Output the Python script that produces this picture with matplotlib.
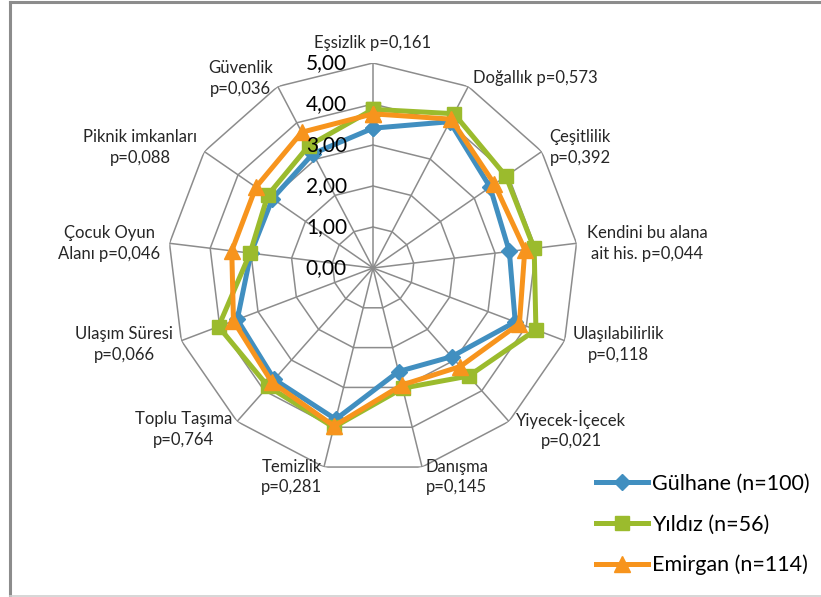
# encoding:utf-8
"""
Parklarin degerlendirme puanlari - radar grafik
"""
import numpy as np
import matplotlib
matplotlib.use('Agg')
import matplotlib.pyplot as plt
from matplotlib.lines import Line2D

plt.rcParams['font.family'] = ['Lato', 'DejaVu Sans']

# kategoriler (saat yonunde, tepeden baslayarak)
categories = ['Eşsizlik p=0,161', 'Doğallık p=0,573', 'Çeşitlilik\np=0,392',
              'Kendini bu alana\nait his. p=0,044', 'Ulaşılabilirlik\np=0,118',
              'Yiyecek-İçecek\np=0,021', 'Danışma\np=0,145', 'Temizlik\np=0,281',
              'Toplu Taşıma\np=0,764', 'Ulaşım Süresi\np=0,066',
              'Çocuk Oyun\nAlanı p=0,046', 'Piknik imkanları\np=0,088',
              'Güvenlik\np=0,036']

gulhane = [3.41, 4.03, 3.47, 3.35, 3.71, 2.89, 2.60, 3.80, 3.63, 3.54, 3.00, 2.98, 3.15]
yildiz = [3.87, 4.25, 3.94, 3.96, 4.25, 3.52, 3.02, 4.00, 3.86, 4.03, 3.02, 3.12, 3.37]
emirgan = [3.76, 4.10, 3.60, 3.73, 3.82, 3.21, 2.94, 3.97, 3.72, 3.64, 3.47, 3.47, 3.74]

series_names = ['Gülhane (n=100)', 'Yıldız (n=56)', 'Emirgan (n=114)']
ticks = [0, 1, 2, 3, 4, 5]
tick_labels = ['0,00', '1,00', '2,00', '3,00', '4,00', '5,00']

# etiket yerlesimi (kose noktasina gore piksel kaydirma, hizalama)
label_offsets = [(0, 12, 'center', 'bottom'), (5, 8, 'left', 'center'),
                 (8, 4, 'left', 'center'), (10, 0, 'left', 'center'),
                 (8, -4, 'left', 'center'), (7, -8, 'left', 'center'),
                 (3, -10, 'left', 'center'), (-2, -10, 'right', 'center'),
                 (-5, -8, 'right', 'center'), (-8, -4, 'right', 'center'),
                 (-9, 0, 'right', 'center'), (-7, 4, 'right', 'center'),
                 (-5, 8, 'right', 'center')]

colors = ['#418FC0', '#9BBB2D', '#F7941D']
markers = ['D', 's', '^']
msizes = [8, 10.5, 11]

W, H = 821, 597
fig = plt.figure(figsize=(W / 100, H / 100), dpi=100)

cx, cy, R = 373, 268, 205
ax = fig.add_axes([(cx - R) / W, (H - cy - R) / H, 2 * R / W, 2 * R / H],
                  projection='polar')
ax.set_theta_zero_location('N')
ax.set_theta_direction(-1)
ax.set_ylim(0, 5)
ax.grid(False)
ax.set_xticks([])
ax.set_yticks([])
ax.spines['polar'].set_visible(False)
ax.patch.set_alpha(0)

n = len(categories)
angles = np.arange(n) * 2 * np.pi / n
closed = np.append(angles, angles[0])

# izgara (cokgen halkalar + isinlar)
for t in ticks[1:]:
    ax.plot(closed, [t] * (n + 1), color='#8C8C8C', lw=1.1, zorder=1)
for a in angles:
    ax.plot([a, a], [0, ticks[-1]], color='#8C8C8C', lw=1.1, zorder=1)

for t, lab in zip(ticks, tick_labels):
    ax.annotate(lab, xy=(0, t), xytext=(-26, 0), textcoords='offset pixels',
                ha='right', va='center', fontsize=15, color='black', zorder=5)

for a, lab, (dx, dy, ha, va) in zip(angles, categories, label_offsets):
    ax.annotate(lab, xy=(a, ticks[-1]), xytext=(dx, dy), textcoords='offset pixels',
                ha=ha, va=va, multialignment='center', fontsize=12,
                color='#262626', linespacing=1.35)

for vals, col, mk, ms in zip([gulhane, yildiz, emirgan], colors, markers, msizes):
    ax.plot(closed, np.append(vals, vals[0]), color=col, lw=3.6, marker=mk,
            markersize=ms, markeredgecolor=col, zorder=3, clip_on=False)

handles = [Line2D([], [], color=c, lw=3.6, marker=m, markersize=s)
           for c, m, s in zip(colors, markers, msizes)]
fig.legend(handles, series_names, loc='upper left',
           bbox_to_anchor=(596 / W, 1 - 474 / H), frameon=False,
           fontsize=15.5, handlelength=2.4, handletextpad=0.2, labelspacing=0.95,
           borderaxespad=0, borderpad=0)

# cerceve
fig.add_artist(Line2D([10 / W, 10 / W], [0, 1 - 2 / H], color='#8C8C8C', lw=2.2))
fig.add_artist(Line2D([10 / W, 1], [1 - 2 / H, 1 - 2 / H], color='#8C8C8C', lw=2.2))
fig.add_artist(Line2D([10 / W, 1], [1.5 / H, 1.5 / H], color='#D0D0D0', lw=1.2))

fig.savefig('out.png', dpi=100)
